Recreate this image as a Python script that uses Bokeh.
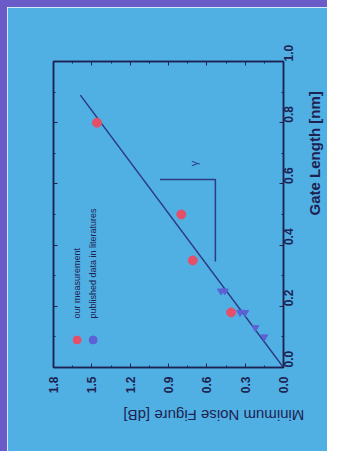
import math
from bokeh.plotting import figure
from bokeh.models import (Range1d, LinearAxis, FixedTicker, Label,
                          CustomJSTickFormatter)
from bokeh.core.properties import value
from bokeh.embed import file_html
from bokeh.resources import INLINE

# ---- data (chart is shown rotated 90 degrees counter-clockwise) ----
gate_length_ours = [0.80, 0.50, 0.35, 0.18]
nf_ours = [1.46, 0.80, 0.71, 0.41]
gate_length_pub = [0.25, 0.25, 0.18, 0.18, 0.13, 0.10]
nf_pub = [0.49, 0.46, 0.34, 0.30, 0.22, 0.15]
gate_length_fit = [0.0, 0.89]
nf_fit = [0.0, 1.59]
slope_gl = [0.614, 0.614, 0.346]
slope_nf = [0.966, 0.533, 0.533]
nf_ticks = [0.0, 0.3, 0.6, 0.9, 1.2, 1.5, 1.8]
gl_ticks = [0.0, 0.2, 0.4, 0.6, 0.8, 1.0]
legend_labels = ["our measurement", "published data in literatures"]
x_title = "Minimum Noise Figure [dB]"
y_title = "Gate Length [nm]"

BG = "#50B0E4"
PURPLE = "#6A5BC8"
DARK = "#1E2250"
LINE = "#2C3A80"
RED = "#E4506A"
BLUE = "#5C62D4"
FONT = "Liberation Sans"

p = figure(width=327, height=451, output_backend="svg", toolbar_location=None,
           x_range=Range1d(1.8, 0.0), y_range=Range1d(0.0, 1.0),
           y_axis_location="right",
           min_border_left=46, min_border_right=48,
           min_border_top=54, min_border_bottom=91)
p.styles = {"border-left": f"7px solid {PURPLE}", "border-top": f"7px solid {PURPLE}"}
p.background_fill_color = BG
p.border_fill_color = BG
p.outline_line_color = DARK
p.outline_line_width = 1.5
p.grid.visible = False

nf_minor = [0.15 + 0.3 * i for i in range(6)]
gl_minor = [0.1 + 0.2 * i for i in range(5)]
fmt = CustomJSTickFormatter(code="return tick.toFixed(1);")
blank = CustomJSTickFormatter(code="return '';")

def style_axis(ax, ticks, minor, show_labels):
    ax.ticker = FixedTicker(ticks=ticks, minor_ticks=minor)
    ax.formatter = fmt if show_labels else blank
    ax.axis_line_color = DARK
    ax.axis_line_width = 1.5
    ax.major_tick_in = 4
    ax.major_tick_out = 0
    ax.minor_tick_in = 2
    ax.minor_tick_out = 0
    ax.major_tick_line_color = DARK
    ax.minor_tick_line_color = DARK
    ax.major_label_text_font = FONT
    ax.major_label_text_font_style = "bold"
    ax.major_label_text_color = DARK
    ax.major_label_text_font_size = "12px"
    ax.major_label_orientation = math.pi / 2
    ax.major_label_standoff = 7

def title_axis(center, text, angle, bold, standoff):
    ax = LinearAxis(ticker=FixedTicker(ticks=[center], minor_ticks=[]),
                    formatter=CustomJSTickFormatter(code="return %r;" % text))
    ax.axis_line_color = None
    ax.major_tick_line_color = None
    ax.minor_tick_line_color = None
    ax.major_tick_in = 0
    ax.major_tick_out = 0
    ax.major_label_text_font = FONT
    ax.major_label_text_font_size = "15px"
    ax.major_label_text_font_style = "bold" if bold else "normal"
    ax.major_label_text_color = DARK
    ax.major_label_orientation = angle
    ax.major_label_standoff = standoff
    return ax

xa = p.xaxis[0]
style_axis(xa, nf_ticks, nf_minor, True)
xa.major_label_standoff = 9

ya = p.yaxis[0]
style_axis(ya, gl_ticks, gl_minor, True)
ya.major_label_standoff = 5

top_ax = LinearAxis()
style_axis(top_ax, nf_ticks, nf_minor, False)
p.add_layout(top_ax, "above")
left_ax = LinearAxis()
style_axis(left_ax, gl_ticks, gl_minor, False)
p.add_layout(left_ax, "left")

p.add_layout(title_axis(0.89, x_title, math.pi, False, 19), "below")
p.add_layout(title_axis(0.497, y_title, math.pi / 2, True, 14), "right")

# fit line and slope bracket
p.line(nf_fit, gate_length_fit, line_color=LINE, line_width=1.5)
p.line(slope_nf, slope_gl, line_color=LINE, line_width=1.5)

# data
p.scatter(nf_pub, gate_length_pub, marker="inverted_triangle", size=7,
          fill_color=BLUE, line_color=BLUE)
p.scatter(nf_ours, gate_length_ours, marker="circle", size=9,
          fill_color=RED, line_color=RED)

# legend (drawn in place, rotated like the rest)
p.scatter([1.615], [0.09], marker="circle", size=8, fill_color=RED, line_color=RED)
p.scatter([1.49], [0.09], marker="circle", size=8, fill_color=BLUE, line_color=BLUE)
p.text(x=[1.615, 1.49], y=[0.16, 0.16], text=legend_labels, angle=math.pi / 2,
       text_font=value(FONT), text_font_size="9px", text_color=DARK,
       text_align="left", text_baseline="middle")

p.add_layout(Label(x=0.70, y=0.667, text="γ", angle=math.pi / 2,
                   text_font=FONT, text_font_size="11px", text_color=LINE,
                   text_align="center", text_baseline="middle"))

open("out.html", "w").write(file_html(p, INLINE))
